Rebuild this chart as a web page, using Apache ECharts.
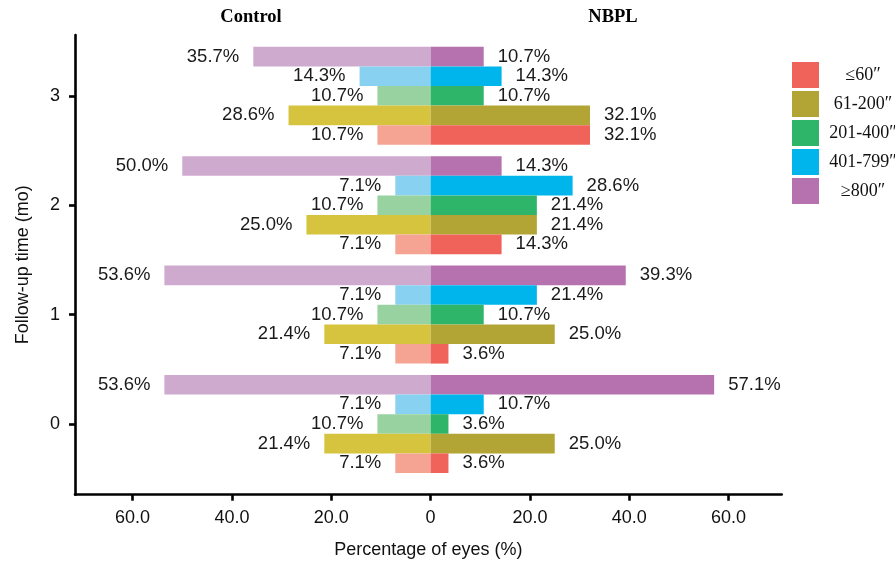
<!DOCTYPE html>
<html>
<head>
<meta charset="utf-8">
<script src="https://cdn.jsdelivr.net/npm/echarts@6/dist/echarts.min.js"></script>
<style>html,body{margin:0;padding:0;background:#fff}#c{width:895px;height:564px}</style>
</head>
<body>
<div id="c"></div>
<script>
// Categories (follow-up time, months) and levels
const times = ['0', '1', '2', '3'];
const levels = ['≤60″', '61-200″', '201-400″', '401-799″', '≥800″'];
const xTicks = [-60, -40, -20, 0, 20, 40, 60];
const yTicks = [0, 1, 2, 3];

// Control (left) percentages per level, for times 0,1,2,3
const ctrl_le60   = [7.1, 7.1, 7.1, 10.7];
const ctrl_61_200 = [21.4, 21.4, 25.0, 28.6];
const ctrl_201_400 = [10.7, 10.7, 10.7, 10.7];
const ctrl_401_799 = [7.1, 7.1, 7.1, 14.3];
const ctrl_ge800  = [53.6, 53.6, 50.0, 35.7];

// NBPL (right) percentages per level, for times 0,1,2,3
const nbpl_le60   = [3.6, 3.6, 14.3, 32.1];
const nbpl_61_200 = [25.0, 25.0, 21.4, 32.1];
const nbpl_201_400 = [3.6, 10.7, 21.4, 10.7];
const nbpl_401_799 = [10.7, 21.4, 28.6, 14.3];
const nbpl_ge800  = [57.1, 39.3, 14.3, 10.7];

const ctrlData = [ctrl_le60, ctrl_61_200, ctrl_201_400, ctrl_401_799, ctrl_ge800];
const nbplData = [nbpl_le60, nbpl_61_200, nbpl_201_400, nbpl_401_799, nbpl_ge800];

const darkColors  = ['#F0635A', '#B2A535', '#2EB56A', '#00B5EB', '#B672AE'];
const lightColors = ['#F5A393', '#D6C43F', '#98D2A1', '#88D1F1', '#CFAACF'];

const FONT = '"Liberation Sans", Arial, sans-serif';
const SERIF = '"Liberation Serif", "Times New Roman", serif';

const XMIN = -71.6, XMAX = 70.7;

const series = [];
// order: top bar first (>=800) down to <=60
for (let k = levels.length - 1; k >= 0; k--) {
  series.push({
    name: levels[k], type: 'bar', xAxisIndex: 1, yAxisIndex: 1,
    stack: 'lv' + k, barWidth: 19.6, barGap: '0%',
    data: ctrlData[k].map(v => -v),
    itemStyle: { color: lightColors[k] },
    label: { show: true, position: 'left', distance: 14, color: '#1a1a1a', fontFamily: FONT, fontSize: 18.5,
      formatter: p => Math.abs(p.value).toFixed(1) + '%' }
  });
  series.push({
    name: levels[k], type: 'bar', xAxisIndex: 1, yAxisIndex: 1,
    stack: 'lv' + k, barWidth: 19.6, barGap: '0%',
    data: nbplData[k].slice(),
    itemStyle: { color: darkColors[k] },
    label: { show: true, position: 'right', distance: 14, color: '#1a1a1a', fontFamily: FONT, fontSize: 18.5,
      formatter: p => Math.abs(p.value).toFixed(1) + '%' }
  });
}

const chart = echarts.init(document.getElementById('c'), null, { renderer: 'canvas' });
chart.setOption({
  animation: false,
  backgroundColor: '#fff',
  grid: [
    { left: 75, right: 113.3, top: 35, bottom: 69.3 },
    { left: 75, right: 113.3, top: 41.1, bottom: 85.3 }
  ],
  xAxis: [
    { gridIndex: 0, type: 'value', min: XMIN, max: XMAX,
      axisLine: { show: true, onZero: false, lineStyle: { color: '#000', width: 2.6 } },
      axisTick: { show: true, length: 6, lineStyle: { color: '#000', width: 2.6 }, customValues: xTicks },
      axisLabel: { color: '#111', fontFamily: FONT, fontSize: 18, margin: 14, customValues: xTicks,
        formatter: v => v === 0 ? '0' : Math.abs(v).toFixed(1) },
      splitLine: { show: false },
      name: 'Percentage of eyes (%)', nameLocation: 'middle', nameGap: 46,
      nameTextStyle: { color: '#111', fontFamily: FONT, fontSize: 18 } },
    { gridIndex: 1, type: 'value', min: XMIN, max: XMAX, show: false }
  ],
  yAxis: [
    { gridIndex: 0, type: 'value', min: -0.646, max: 3.557,
      axisLine: { show: true, onZero: false, lineStyle: { color: '#000', width: 2.6 } },
      axisTick: { show: true, length: 6, lineStyle: { color: '#000', width: 2.6 }, customValues: yTicks },
      axisLabel: { color: '#111', fontFamily: FONT, fontSize: 18, margin: 15, customValues: yTicks,
        formatter: v => String(v) },
      splitLine: { show: false },
      name: 'Follow-up time (mo)', nameLocation: 'middle', nameGap: 43,
      nameTextStyle: { color: '#111', fontFamily: FONT, fontSize: 18 } },
    { gridIndex: 1, type: 'category', data: times, show: false }
  ],
  legend: {
    orient: 'vertical', left: 787, top: 57,
    itemWidth: 27, itemHeight: 26, itemGap: 3, icon: 'rect', selectedMode: false,
    data: levels.map((n, i) => ({ name: n, itemStyle: { color: darkColors[i] } })),
    formatter: n => '{a|' + n + '}',
    textStyle: { rich: { a: { width: 78, align: 'center', fontFamily: SERIF, fontSize: 18, color: '#111' } } }
  },
  graphic: [
    { type: 'text', x: 251, y: 17, style: { text: 'Control', fontFamily: SERIF, fontWeight: 'bold', fontSize: 18.5, fill: '#000', align: 'center', verticalAlign: 'middle' } },
    { type: 'text', x: 613, y: 17, style: { text: 'NBPL', fontFamily: SERIF, fontWeight: 'bold', fontSize: 18.5, fill: '#000', align: 'center', verticalAlign: 'middle' } }
  ],
  series: series
});
</script>
</body>
</html>
